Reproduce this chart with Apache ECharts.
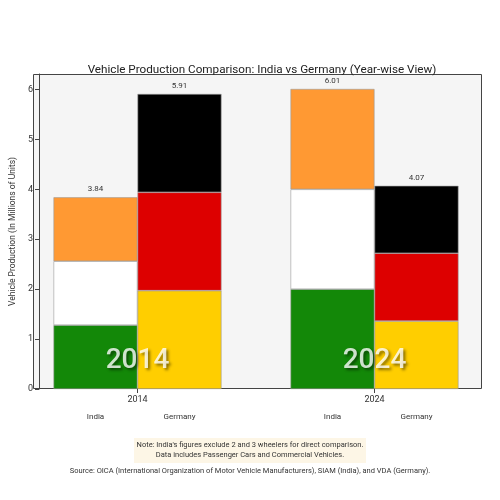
<!DOCTYPE html>
<html>
<head>
<meta charset="utf-8">
<script src="https://cdn.jsdelivr.net/npm/echarts@6/dist/echarts.min.js"></script>
<style>
  html, body { margin: 0; padding: 0; background: #fff; }
  #chart { width: 500px; height: 500px; }
</style>
</head>
<body>
<div id="chart"></div>
<script>
// data (millions of units), each total split into flag-colour thirds
const years = ['2014', '2024'];
const indiaGreen = [1.28, 2.00];
const indiaWhite = [1.28, 2.00];
const indiaSaffron = [1.28, 2.01];
const germanyGold = [1.97, 1.36];
const germanyRed = [1.97, 1.36];
const germanyBlack = [1.97, 1.35];
const yTicks = [0, 1, 2, 3, 4, 5, 6];

const indiaTotal = years.map((y, i) => indiaGreen[i] + indiaWhite[i] + indiaSaffron[i]);
const germanyTotal = years.map((y, i) => germanyGold[i] + germanyRed[i] + germanyBlack[i]);

const font = 'Roboto, "Noto Sans", sans-serif';
const edge = { borderColor: '#9a9a9a', borderWidth: 0.6 };

// one stacked segment
function seg(name, stack, data, color, extra) {
  return Object.assign({
    name: name,
    type: 'bar',
    stack: stack,
    data: data,
    barWidth: 84,
    barGap: '0%',
    itemStyle: Object.assign({ color: color }, edge),
    emphasis: { disabled: true }
  }, extra || {});
}

const bottomName = (txt) => ({
  label: {
    show: true, position: 'bottom', distance: 24,
    formatter: txt, fontFamily: font, fontSize: 8, color: '#333'
  }
});
const topTotal = (totals) => ({
  label: {
    show: true, position: 'top', distance: 4,
    formatter: (p) => totals[p.dataIndex].toFixed(2),
    fontFamily: font, fontSize: 8, color: '#333'
  }
});

const chart = echarts.init(document.getElementById('chart'));
chart.setOption({
  animation: false,
  backgroundColor: '#fff',
  title: {
    text: 'Vehicle Production Comparison: India vs Germany (Year-wise View)',
    left: 257, textAlign: 'center', top: 59,
    textStyle: { fontFamily: font, fontSize: 11.7, fontWeight: 'normal', color: '#222' }
  },
  graphic: [
    {
      type: 'rect', z: -10, silent: true,
      shape: { x: 33.5, y: 74.5, width: 448, height: 314 },
      style: { fill: '#f5f5f5', stroke: '#444', lineWidth: 1 }
    },
    {
      type: 'rect', z: -10, silent: true,
      shape: { x: 134, y: 438, width: 232, height: 25 },
      style: { fill: '#fdf6e6' }
    },
    {
      type: 'text', left: 'center', top: 440,
      style: {
        text: "Note: India's figures exclude 2 and 3 wheelers for direct comparison.\nData includes Passenger Cars and Commercial Vehicles.",
        textAlign: 'center', fontFamily: font, fontSize: 7.5, lineHeight: 10, fill: '#333'
      }
    },
    {
      type: 'text', left: 'center', top: 467,
      style: {
        text: 'Source: OICA (International Organization of Motor Vehicle Manufacturers), SIAM (India), and VDA (Germany).',
        fontFamily: font, fontSize: 7.5, fill: '#333'
      }
    }
  ],
  grid: { left: 13, right: 7, top: 74, bottom: 111, containLabel: false },
  xAxis: {
    type: 'category',
    data: years,
    axisLine: { show: false },
    axisTick: { show: true, alignWithLabel: true, length: 4, lineStyle: { color: '#444' } },
    axisLabel: { fontFamily: font, fontSize: 9, color: '#333', margin: 6 }
  },
  yAxis: {
    type: 'value',
    min: 0, max: 6.31, interval: 1,
    offset: -20,
    name: 'Vehicle Production (In Millions of Units)',
    nameLocation: 'middle', nameGap: 22,
    nameTextStyle: { fontFamily: font, fontSize: 8.5, color: '#333' },
    splitLine: { show: false },
    axisLine: { show: true, lineStyle: { color: '#444' } },
    axisTick: { show: true, length: 4, lineStyle: { color: '#444' } },
    axisLabel: {
      fontFamily: font, fontSize: 9, color: '#333', margin: 6,
      formatter: (v) => (yTicks.indexOf(v) >= 0 ? String(v) : '')
    }
  },
  series: [
    seg('India', 'india', indiaGreen, '#138808', bottomName('India')),
    seg('India', 'india', indiaWhite, '#ffffff'),
    seg('India', 'india', indiaSaffron, '#ff9933', topTotal(indiaTotal)),
    seg('Germany', 'germany', germanyGold, '#ffce00', bottomName('Germany')),
    seg('Germany', 'germany', germanyRed, '#dd0000'),
    seg('Germany', 'germany', germanyBlack, '#000000', topTotal(germanyTotal)),
    {
      type: 'scatter',
      data: years.map((y) => [y, 0]),
      symbolSize: 0,
      z: 10,
      silent: true,
      label: {
        show: true, position: 'top', distance: 14,
        formatter: (p) => years[p.dataIndex],
        fontFamily: font, fontSize: 28, fontWeight: 500, color: '#fff',
        textShadowColor: 'rgba(0,0,0,0.6)', textShadowBlur: 3,
        textShadowOffsetX: 2, textShadowOffsetY: 2
      }
    }
  ]
});
</script>
</body>
</html>
